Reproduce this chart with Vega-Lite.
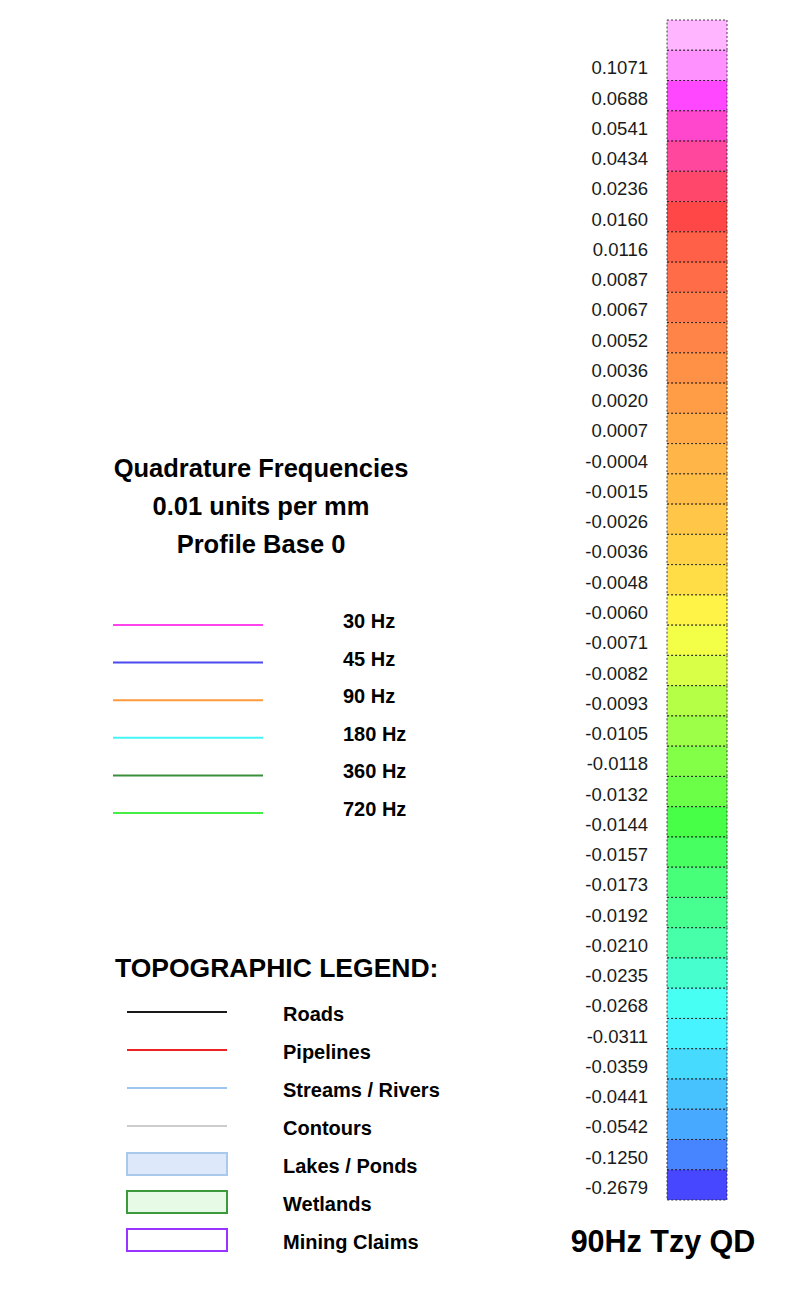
{
  "$schema": "https://vega.github.io/schema/vega-lite/v6.json",
  "width": 812,
  "height": 1316,
  "padding": 0,
  "autosize": "none",
  "background": "white",
  "config": {"view": {"stroke": null}, "font": "Liberation Sans"},
  "resolve": {"scale": {"x": "independent", "y": "independent", "color": "independent"}},
  "layer": [
    {
      "data": {"values": [
        {"i": 0, "label": ""},
        {"i": 1, "label": "0.1071"},
        {"i": 2, "label": "0.0688"},
        {"i": 3, "label": "0.0541"},
        {"i": 4, "label": "0.0434"},
        {"i": 5, "label": "0.0236"},
        {"i": 6, "label": "0.0160"},
        {"i": 7, "label": "0.0116"},
        {"i": 8, "label": "0.0087"},
        {"i": 9, "label": "0.0067"},
        {"i": 10, "label": "0.0052"},
        {"i": 11, "label": "0.0036"},
        {"i": 12, "label": "0.0020"},
        {"i": 13, "label": "0.0007"},
        {"i": 14, "label": "-0.0004"},
        {"i": 15, "label": "-0.0015"},
        {"i": 16, "label": "-0.0026"},
        {"i": 17, "label": "-0.0036"},
        {"i": 18, "label": "-0.0048"},
        {"i": 19, "label": "-0.0060"},
        {"i": 20, "label": "-0.0071"},
        {"i": 21, "label": "-0.0082"},
        {"i": 22, "label": "-0.0093"},
        {"i": 23, "label": "-0.0105"},
        {"i": 24, "label": "-0.0118"},
        {"i": 25, "label": "-0.0132"},
        {"i": 26, "label": "-0.0144"},
        {"i": 27, "label": "-0.0157"},
        {"i": 28, "label": "-0.0173"},
        {"i": 29, "label": "-0.0192"},
        {"i": 30, "label": "-0.0210"},
        {"i": 31, "label": "-0.0235"},
        {"i": 32, "label": "-0.0268"},
        {"i": 33, "label": "-0.0311"},
        {"i": 34, "label": "-0.0359"},
        {"i": 35, "label": "-0.0441"},
        {"i": 36, "label": "-0.0542"},
        {"i": 37, "label": "-0.1250"},
        {"i": 38, "label": "-0.2679"}
      ]},
      "encoding": {
        "y": {"field": "i", "type": "ordinal", "axis": null,
              "scale": {"type": "band", "range": [20, 1200], "paddingInner": 0, "paddingOuter": 0}}
      },
      "layer": [
        {
          "mark": {"type": "rect", "fillOpacity": 0.72, "stroke": "#222222", "strokeWidth": 1, "strokeDash": [2, 2], "strokeOpacity": 0.85},
          "encoding": {
            "x": {"datum": 0, "type": "quantitative", "axis": null, "scale": {"domain": [0, 1], "range": [667, 727]}},
            "x2": {"datum": 1},
            "color": {"field": "i", "type": "ordinal", "legend": null,
              "scale": {"domain": [0,1,2,3,4,5,6,7,8,9,10,11,12,13,14,15,16,17,18,19,20,21,22,23,24,25,26,27,28,29,30,31,32,33,34,35,36,37,38],
                "range": ["#ff99ff","#ff66ff","#ff00ff","#ff00bb","#ff0077","#ff0033","#ff0000","#ff2200","#ff3300","#ff4400","#ff5500","#ff6600","#ff7700","#ff8800","#ff9900","#ffa200","#ffb000","#ffbf00","#ffd000","#ffee00","#eeff00","#ccff00","#99ff00","#77ff00","#55ff00","#33ff00","#00ff00","#00ff22","#00ff44","#00ff66","#00ff88","#00ffbb","#00ffee","#00eeff","#00ccff","#00aaff","#0088ff","#0055ff","#0000ff"]}}
          }
        },
        {
          "mark": {"type": "text", "align": "right", "baseline": "middle", "dx": -19, "dy": 3, "fontSize": 18.5, "color": "#1a1a1a"},
          "encoding": {
            "x": {"datum": 0, "type": "quantitative"},
            "text": {"field": "label"}
          }
        },
        {
          "data": {"values": [{"title": "90Hz Tzy QD", "band": 38}]},
          "mark": {"type": "text", "align": "center", "baseline": "middle", "dx": -4, "dy": 58, "fontSize": 30.5, "fontWeight": "bold", "color": "#000000"},
          "encoding": {
            "x": {"datum": 0, "type": "quantitative"},
            "y": {"field": "band", "type": "ordinal"},
            "text": {"field": "title"}
          }
        }
      ]
    },
    {
      "data": {"values": [
        {"line": "Quadrature Frequencies"},
        {"line": "0.01 units per mm"},
        {"line": "Profile Base 0"}
      ]},
      "mark": {"type": "text", "align": "center", "baseline": "middle", "fontSize": 25.5, "fontWeight": "bold", "color": "#000000"},
      "encoding": {
        "x": {"datum": 1, "type": "quantitative", "axis": null, "scale": {"domain": [0, 1], "range": [113, 261]}},
        "y": {"field": "line", "type": "nominal", "sort": null, "axis": null, "scale": {"type": "point", "range": [469, 545], "padding": 0}},
        "text": {"field": "line"}
      }
    },
    {
      "data": {"values": [
        {"freq": "30 Hz"},
        {"freq": "45 Hz"},
        {"freq": "90 Hz"},
        {"freq": "180 Hz"},
        {"freq": "360 Hz"},
        {"freq": "720 Hz"}
      ]},
      "encoding": {
        "y": {"field": "freq", "type": "nominal", "sort": null, "axis": null, "scale": {"type": "point", "range": [625, 813], "padding": 0}}
      },
      "layer": [
        {
          "mark": {"type": "rule", "strokeWidth": 2},
          "encoding": {
            "x": {"datum": 0, "type": "quantitative", "axis": null, "scale": {"domain": [0, 1], "range": [113, 263]}},
            "x2": {"datum": 1},
            "color": {"field": "freq", "type": "nominal", "legend": null,
              "scale": {"domain": ["30 Hz","45 Hz","90 Hz","180 Hz","360 Hz","720 Hz"],
                        "range": ["#ff44ee","#4a4af0","#ff9a3c","#44f6f6","#3a8f3a","#44ee44"]}}
          }
        },
        {
          "mark": {"type": "text", "align": "left", "baseline": "middle", "dx": 80, "dy": -3, "fontSize": 20, "fontWeight": "bold", "color": "#000000"},
          "encoding": {
            "x": {"datum": 1, "type": "quantitative"},
            "text": {"field": "freq"}
          }
        }
      ]
    },
    {
      "data": {"values": [
        {"item": "Roads", "symbol": "line"},
        {"item": "Pipelines", "symbol": "line"},
        {"item": "Streams / Rivers", "symbol": "line"},
        {"item": "Contours", "symbol": "line"},
        {"item": "Lakes / Ponds", "symbol": "box"},
        {"item": "Wetlands", "symbol": "box"},
        {"item": "Mining Claims", "symbol": "box"}
      ]},
      "encoding": {
        "y": {"field": "item", "type": "nominal", "sort": null, "axis": null, "scale": {"type": "point", "range": [1012, 1240], "padding": 0}}
      },
      "layer": [
        {
          "transform": [{"filter": "datum.symbol === 'line'"}],
          "mark": {"type": "rule", "strokeWidth": 2},
          "encoding": {
            "x": {"datum": 0, "type": "quantitative", "axis": null, "scale": {"domain": [0, 1], "range": [127, 227]}},
            "x2": {"datum": 1},
            "color": {"field": "item", "type": "nominal", "legend": null,
              "scale": {"domain": ["Roads","Pipelines","Streams / Rivers","Contours"],
                        "range": ["#1a1a1a","#ee2222","#9cc6ee","#cccccc"]}}
          }
        },
        {
          "transform": [{"filter": "datum.symbol === 'box'"}],
          "mark": {"type": "rect", "height": 22, "strokeWidth": 2},
          "encoding": {
            "x": {"datum": 0, "type": "quantitative"},
            "x2": {"datum": 1},
            "fill": {"field": "item", "type": "nominal", "legend": null,
              "scale": {"domain": ["Lakes / Ponds","Wetlands","Mining Claims"], "range": ["#dde8fb","#e6fae6","#ffffff"]}},
            "stroke": {"field": "item", "type": "nominal", "legend": null,
              "scale": {"domain": ["Lakes / Ponds","Wetlands","Mining Claims"], "range": ["#a9c9ec","#3c9a3c","#9933ff"]}}
          }
        },
        {
          "mark": {"type": "text", "align": "left", "baseline": "middle", "dx": 56, "dy": 3, "fontSize": 20, "fontWeight": "bold", "color": "#000000"},
          "encoding": {
            "x": {"datum": 1, "type": "quantitative"},
            "text": {"field": "item"}
          }
        },
        {
          "data": {"values": [{"heading": "TOPOGRAPHIC LEGEND:", "anchor": "Roads"}]},
          "mark": {"type": "text", "align": "left", "baseline": "middle", "dx": -12, "dy": -43, "fontSize": 26.5, "fontWeight": "bold", "color": "#000000"},
          "encoding": {
            "x": {"datum": 0, "type": "quantitative"},
            "y": {"field": "anchor", "type": "nominal"},
            "text": {"field": "heading"}
          }
        }
      ]
    }
  ]
}
